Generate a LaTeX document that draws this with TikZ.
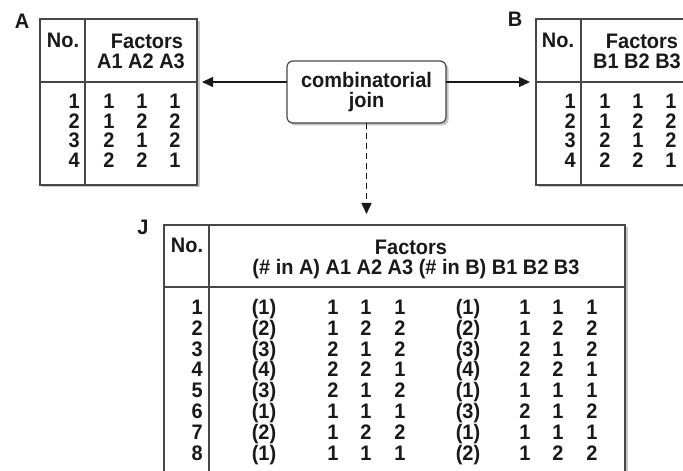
\documentclass[tikz,border=0pt]{standalone}
\usepackage{fontspec}
\setmainfont{Liberation Sans}[FakeStretch=0.95]
\usetikzlibrary{arrows.meta,shadows}
\begin{document}
\begin{tikzpicture}[x=1bp,y=-1bp,
  font=\fontsize{21bp}{20bp}\selectfont\bfseries,
  text=black!90,
  frame/.style={draw=black!72, line width=1.2bp, fill=white, inner sep=0pt, outer sep=0pt,
    drop shadow={shadow xshift=2.5bp, shadow yshift=-2.5bp, opacity=0.45}},
  rule/.style={draw=black!72, line width=1.2bp},
  cell/.style={inner sep=0pt, anchor=base},
  numcell/.style={inner sep=0pt, anchor=base east},
  joinbox/.style={frame, rounded corners=6bp, align=center},
  link/.style={draw=black!90, line width=1.3bp, -{Triangle[length=11bp,width=10bp]}},
]
\useasboundingbox (0,0) rectangle (683,471);
\clip (0,0) rectangle (683,471);

% ---------- table A ----------
\node[frame, minimum width=157bp, minimum height=166bp] (tA) at (118.5,102) {};
\coordinate (aH) at (0,82);
\coordinate (aV) at (85,0);
\draw[rule] (tA.west |- aH) -- (tA.east |- aH);
\draw[rule] (tA.north -| aV) -- (tA.south -| aV);
\node[cell] (lA) at (22,29) {A};
\node[cell] (aNo) at (63,48) {No.};
\node[cell] (aFac) at (147,49) {Factors};
\node[cell] (aFn) at (141,69) {A1 A2 A3};
\foreach \k/\a/\b/\c [count=\r from 0] in {1/1/1/1, 2/1/2/2, 3/2/1/2, 4/2/2/1} {
  \node[numcell] (aR\k) at (80,108.5+19.7*\r) {\k};
  \node[cell] (aA\k) at (109,108.5+19.7*\r) {\a};
  \node[cell] (aB\k) at (142,108.5+19.7*\r) {\b};
  \node[cell] (aC\k) at (175,108.5+19.7*\r) {\c};
}

% ---------- table B ----------
\node[frame, minimum width=184bp, minimum height=166bp] (tB) at (628,102) {};
\coordinate (bV) at (581,0);
\draw[rule] (tB.west |- aH) -- (tB.east |- aH);
\draw[rule] (tB.north -| bV) -- (tB.south -| bV);
\node[cell] (lB) at (515,27) {B};
\node[cell] (bNo) at (558,48) {No.};
\node[cell] (bFac) at (642,49) {Factors};
\node[cell] (bFn) at (637,69) {B1 B2 B3};
\foreach \k/\a/\b/\c [count=\r from 0] in {1/1/1/1, 2/1/2/2, 3/2/1/2, 4/2/2/1} {
  \node[numcell] (bR\k) at (576,108.5+19.7*\r) {\k};
  \node[cell] (bA\k) at (605,108.5+19.7*\r) {\a};
  \node[cell] (bB\k) at (638,108.5+19.7*\r) {\b};
  \node[cell] (bC\k) at (671,108.5+19.7*\r) {\c};
}

% ---------- join operator ----------
\node[joinbox, minimum width=159bp, minimum height=62bp] (cj) at (366.5,92) {combinatorial\\join};

% ---------- table J ----------
\node[frame, minimum width=461bp, minimum height=280bp] (tJ) at (394.5,365) {};
\coordinate (jH) at (0,287);
\coordinate (jV) at (209,0);
\draw[rule] (tJ.west |- jH) -- (tJ.east |- jH);
\draw[rule] (tJ.north -| jV) -- (tJ.south -| jV);
\node[cell] (lJ) at (143,235) {J};
\node[cell] (jNo) at (187,253) {No.};
\node[cell] (jFac) at (411,255) {Factors};
\node[cell] (jFn) at (416,275) {(\# in A) A1 A2 A3 (\# in B) B1 B2 B3};
\foreach \k/\pa/\a/\b/\c/\pb/\d/\e/\f [count=\r from 0] in {
    1/1/1/1/1/1/1/1/1, 2/2/1/2/2/2/1/2/2, 3/3/2/1/2/3/2/1/2, 4/4/2/2/1/4/2/2/1,
    5/3/2/1/2/1/1/1/1, 6/1/1/1/1/3/2/1/2, 7/2/1/2/2/1/1/1/1, 8/1/1/1/1/2/1/2/2} {
  \node[numcell] (jR\k) at (203,314.2+20.9*\r) {\k};
  \node[cell] (jPa\k) at (264,314.2+20.9*\r) {(\pa)};
  \node[cell] (jA\k) at (333,314.2+20.9*\r) {\a};
  \node[cell] (jB\k) at (366,314.2+20.9*\r) {\b};
  \node[cell] (jC\k) at (400,314.2+20.9*\r) {\c};
  \node[cell] (jPb\k) at (468,314.2+20.9*\r) {(\pb)};
  \node[cell] (jD\k) at (525,314.2+20.9*\r) {\d};
  \node[cell] (jE\k) at (558,314.2+20.9*\r) {\e};
  \node[cell] (jF\k) at (592,314.2+20.9*\r) {\f};
}

% ---------- connectors ----------
\draw[link, shorten >=5bp] (cj.west |- aH) -- (tA.east |- aH);
\draw[link, shorten >=6bp] (cj.east |- aH) -- (tB.west |- aH);
\draw[link, line width=1.6bp, dash pattern=on 6bp off 4bp, shorten >=11bp] (cj.south) -- (cj.south |- tJ.north);
\end{tikzpicture}
\end{document}
